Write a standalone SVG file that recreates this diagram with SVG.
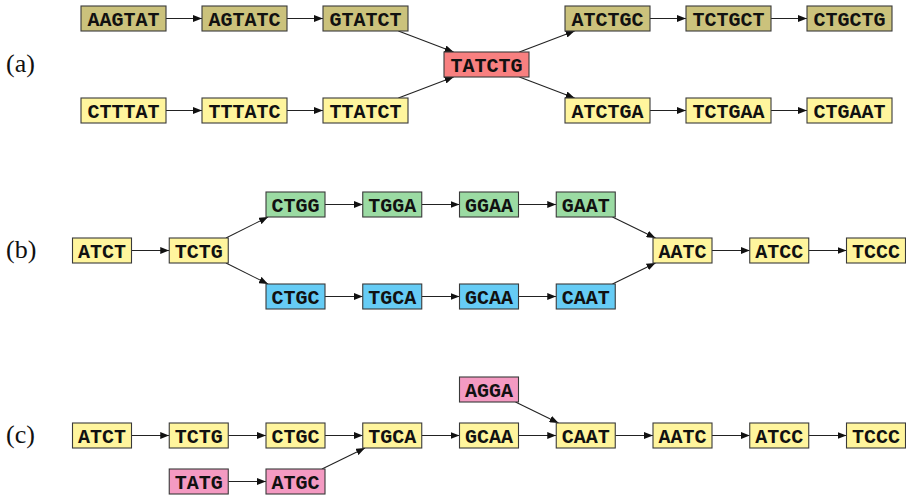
<svg xmlns="http://www.w3.org/2000/svg" width="906" height="496" viewBox="0 0 906 496">
<style>
.n rect{stroke:#3a3a3a;stroke-width:1.1}
.n text{font-family:"Liberation Mono","DejaVu Sans Mono",monospace;font-size:20px;font-weight:bold;fill:#111;text-anchor:middle}
.ol rect{fill:#CBC27C}.ye rect{fill:#FFF59D}.rd rect{fill:#F88080}.gr rect{fill:#9BDBA3}.bl rect{fill:#66CCF5}.pk rect{fill:#F49AC2}
.lab{font-family:"Liberation Serif","DejaVu Serif",serif;font-size:26px;fill:#111}
#edges line{stroke:#222;stroke-width:1.1;marker-end:url(#ah)}
</style>
<defs>
<marker id="ah" markerUnits="userSpaceOnUse" viewBox="0 0 9 7" refX="9" refY="3.5" markerWidth="9" markerHeight="7" orient="auto">
<path d="M0,0 L9,3.5 L0,7 Z" fill="#111"/>
</marker>
</defs>
<text class="lab" x="6" y="72">(a)</text>
<text class="lab" x="6" y="258">(b)</text>
<text class="lab" x="6" y="443">(c)</text>
<g id="edges">
<!-- (a) -->
<line x1="166" y1="18.5" x2="202" y2="18.5"/>
<line x1="287" y1="18.5" x2="323" y2="18.5"/>
<line x1="166" y1="110.5" x2="202" y2="110.5"/>
<line x1="287" y1="110.5" x2="323" y2="110.5"/>
<line x1="398.4" y1="31" x2="453.6" y2="52"/>
<line x1="398.4" y1="98" x2="453.6" y2="77"/>
<line x1="519.4" y1="52" x2="574.6" y2="31"/>
<line x1="519.4" y1="77" x2="574.6" y2="98"/>
<line x1="650" y1="18.5" x2="686" y2="18.5"/>
<line x1="771" y1="18.5" x2="807" y2="18.5"/>
<line x1="650" y1="110.5" x2="686" y2="110.5"/>
<line x1="771" y1="110.5" x2="807" y2="110.5"/>
<!-- (b) -->
<line x1="131.5" y1="250.5" x2="169.25" y2="250.5"/>
<line x1="226" y1="238" x2="268" y2="217"/>
<line x1="226" y1="263" x2="268" y2="284"/>
<line x1="325" y1="204.5" x2="362.75" y2="204.5"/>
<line x1="421.75" y1="204.5" x2="459.5" y2="204.5"/>
<line x1="518.5" y1="204.5" x2="556.25" y2="204.5"/>
<line x1="325" y1="296.5" x2="362.75" y2="296.5"/>
<line x1="421.75" y1="296.5" x2="459.5" y2="296.5"/>
<line x1="518.5" y1="296.5" x2="556.25" y2="296.5"/>
<line x1="612.5" y1="217" x2="655.5" y2="238"/>
<line x1="612.5" y1="284" x2="655.5" y2="263"/>
<line x1="712" y1="250.5" x2="749.75" y2="250.5"/>
<line x1="808.75" y1="250.5" x2="846.5" y2="250.5"/>
<!-- (c) -->
<line x1="131.5" y1="435.5" x2="169.25" y2="435.5"/>
<line x1="228.25" y1="435.5" x2="266" y2="435.5"/>
<line x1="325" y1="435.5" x2="362.75" y2="435.5"/>
<line x1="421.75" y1="435.5" x2="459.5" y2="435.5"/>
<line x1="518.5" y1="435.5" x2="556.25" y2="435.5"/>
<line x1="615.25" y1="435.5" x2="653" y2="435.5"/>
<line x1="712" y1="435.5" x2="749.75" y2="435.5"/>
<line x1="808.75" y1="435.5" x2="846.5" y2="435.5"/>
<line x1="228.25" y1="481.5" x2="266" y2="481.5"/>
<line x1="322" y1="469" x2="365" y2="448"/>
<line x1="515.5" y1="402" x2="558.5" y2="423"/>
</g>
<!-- (a) nodes -->
<g id="a_AAGTAT" class="n ol"><rect x="81" y="6" width="85" height="25"/><text x="123.5" y="26">AAGTAT</text></g>
<g id="a_AGTATC" class="n ol"><rect x="202" y="6" width="85" height="25"/><text x="244.5" y="26">AGTATC</text></g>
<g id="a_GTATCT" class="n ol"><rect x="323" y="6" width="85" height="25"/><text x="365.5" y="26">GTATCT</text></g>
<g id="a_CTTTAT" class="n ye"><rect x="81" y="98" width="85" height="25"/><text x="123.5" y="118">CTTTAT</text></g>
<g id="a_TTTATC" class="n ye"><rect x="202" y="98" width="85" height="25"/><text x="244.5" y="118">TTTATC</text></g>
<g id="a_TTATCT" class="n ye"><rect x="323" y="98" width="85" height="25"/><text x="365.5" y="118">TTATCT</text></g>
<g id="a_TATCTG" class="n rd"><rect x="444" y="52" width="85" height="25"/><text x="486.5" y="72">TATCTG</text></g>
<g id="a_ATCTGC" class="n ol"><rect x="565" y="6" width="85" height="25"/><text x="607.5" y="26">ATCTGC</text></g>
<g id="a_TCTGCT" class="n ol"><rect x="686" y="6" width="85" height="25"/><text x="728.5" y="26">TCTGCT</text></g>
<g id="a_CTGCTG" class="n ol"><rect x="807" y="6" width="85" height="25"/><text x="849.5" y="26">CTGCTG</text></g>
<g id="a_ATCTGA" class="n ye"><rect x="565" y="98" width="85" height="25"/><text x="607.5" y="118">ATCTGA</text></g>
<g id="a_TCTGAA" class="n ye"><rect x="686" y="98" width="85" height="25"/><text x="728.5" y="118">TCTGAA</text></g>
<g id="a_CTGAAT" class="n ye"><rect x="807" y="98" width="85" height="25"/><text x="849.5" y="118">CTGAAT</text></g>
<!-- (b) nodes -->
<g id="b_ATCT" class="n ye"><rect x="72.5" y="238" width="59" height="25"/><text x="102" y="258">ATCT</text></g>
<g id="b_TCTG" class="n ye"><rect x="169.25" y="238" width="59" height="25"/><text x="198.75" y="258">TCTG</text></g>
<g id="b_CTGG" class="n gr"><rect x="266" y="192" width="59" height="25"/><text x="295.5" y="212">CTGG</text></g>
<g id="b_TGGA" class="n gr"><rect x="362.75" y="192" width="59" height="25"/><text x="392.25" y="212">TGGA</text></g>
<g id="b_GGAA" class="n gr"><rect x="459.5" y="192" width="59" height="25"/><text x="489" y="212">GGAA</text></g>
<g id="b_GAAT" class="n gr"><rect x="556.25" y="192" width="59" height="25"/><text x="585.75" y="212">GAAT</text></g>
<g id="b_CTGC" class="n bl"><rect x="266" y="284" width="59" height="25"/><text x="295.5" y="304">CTGC</text></g>
<g id="b_TGCA" class="n bl"><rect x="362.75" y="284" width="59" height="25"/><text x="392.25" y="304">TGCA</text></g>
<g id="b_GCAA" class="n bl"><rect x="459.5" y="284" width="59" height="25"/><text x="489" y="304">GCAA</text></g>
<g id="b_CAAT" class="n bl"><rect x="556.25" y="284" width="59" height="25"/><text x="585.75" y="304">CAAT</text></g>
<g id="b_AATC" class="n ye"><rect x="653" y="238" width="59" height="25"/><text x="682.5" y="258">AATC</text></g>
<g id="b_ATCC" class="n ye"><rect x="749.75" y="238" width="59" height="25"/><text x="779.25" y="258">ATCC</text></g>
<g id="b_TCCC" class="n ye"><rect x="846.5" y="238" width="59" height="25"/><text x="876" y="258">TCCC</text></g>
<!-- (c) nodes -->
<g id="c_ATCT" class="n ye"><rect x="72.5" y="423" width="59" height="25"/><text x="102" y="443">ATCT</text></g>
<g id="c_TCTG" class="n ye"><rect x="169.25" y="423" width="59" height="25"/><text x="198.75" y="443">TCTG</text></g>
<g id="c_CTGC" class="n ye"><rect x="266" y="423" width="59" height="25"/><text x="295.5" y="443">CTGC</text></g>
<g id="c_TGCA" class="n ye"><rect x="362.75" y="423" width="59" height="25"/><text x="392.25" y="443">TGCA</text></g>
<g id="c_GCAA" class="n ye"><rect x="459.5" y="423" width="59" height="25"/><text x="489" y="443">GCAA</text></g>
<g id="c_CAAT" class="n ye"><rect x="556.25" y="423" width="59" height="25"/><text x="585.75" y="443">CAAT</text></g>
<g id="c_AATC" class="n ye"><rect x="653" y="423" width="59" height="25"/><text x="682.5" y="443">AATC</text></g>
<g id="c_ATCC" class="n ye"><rect x="749.75" y="423" width="59" height="25"/><text x="779.25" y="443">ATCC</text></g>
<g id="c_TCCC" class="n ye"><rect x="846.5" y="423" width="59" height="25"/><text x="876" y="443">TCCC</text></g>
<g id="c_TATG" class="n pk"><rect x="169.25" y="469" width="59" height="25"/><text x="198.75" y="489">TATG</text></g>
<g id="c_ATGC" class="n pk"><rect x="266" y="469" width="59" height="25"/><text x="295.5" y="489">ATGC</text></g>
<g id="c_AGGA" class="n pk"><rect x="459.5" y="377" width="59" height="25"/><text x="489" y="397">AGGA</text></g>
</svg>
